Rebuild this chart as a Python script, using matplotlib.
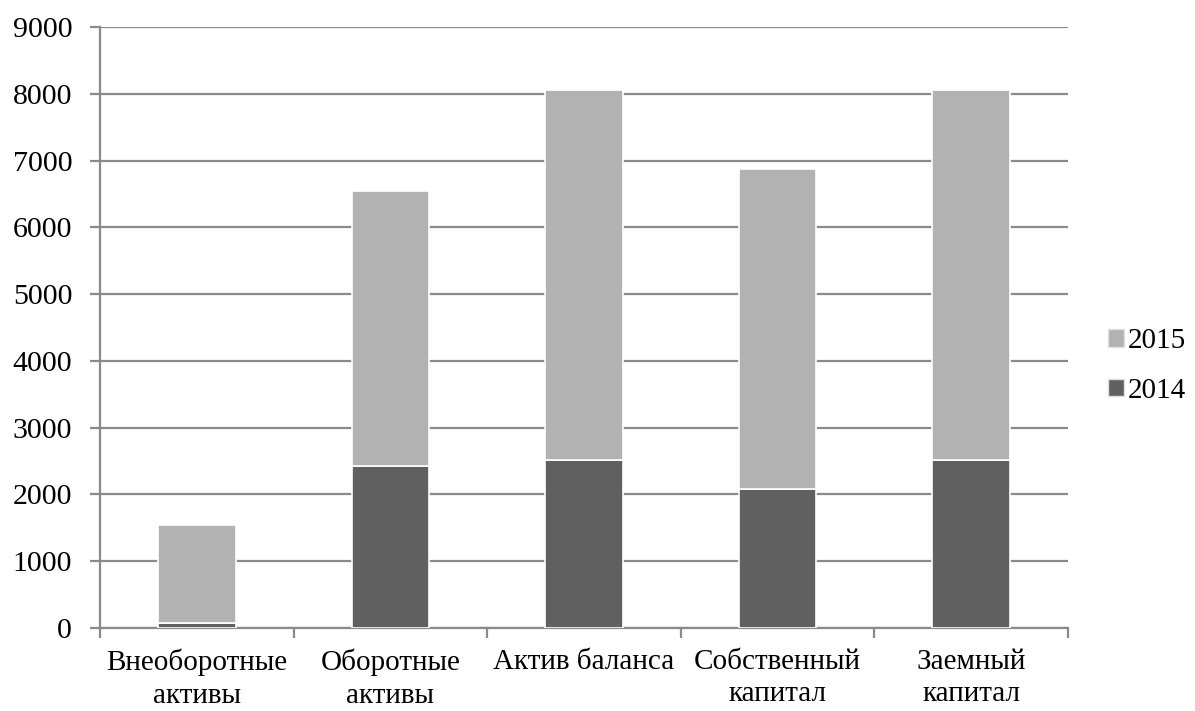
import numpy as np
import matplotlib.pyplot as plt
from matplotlib.patches import Patch

categories = ['Внеоборотные\nактивы', 'Оборотные\nактивы', 'Актив баланса',
              'Собственный\nкапитал', 'Заемный\nкапитал']
values_2014 = [80, 2420, 2510, 2080, 2510]
values_2015 = [1470, 4120, 5550, 4790, 5550]
yticks = [0, 1000, 2000, 3000, 4000, 5000, 6000, 7000, 8000, 9000]

plt.rcParams['font.family'] = ['Liberation Serif', 'DejaVu Serif']
grid_color = '#8a8a8a'
dark = '#606060'
light = '#b2b2b2'

fig = plt.figure(figsize=(11.95, 7.11), dpi=100)
ax = fig.add_axes([0.0837, 0.1167, 0.81, 0.8453])

x = np.arange(len(categories))
ax.bar(x, values_2014, width=0.4, color=dark, edgecolor='white', linewidth=1.2, zorder=3)
ax.bar(x, values_2015, width=0.4, bottom=values_2014, color=light,
       edgecolor='white', linewidth=1.2, zorder=3)

ax.set_xlim(-0.5, len(categories) - 0.5)
ax.set_ylim(0, 9000)
ax.set_yticks(yticks)
ax.yaxis.grid(True, color=grid_color, linewidth=1.6, zorder=0)
ax.set_axisbelow(True)

ax.set_xticks(x)
ax.set_xticklabels(categories, fontsize=21, linespacing=1.32)
ax.set_xticks(np.arange(len(categories) + 1) - 0.5, minor=True)
ax.tick_params(axis='x', which='major', length=0, pad=15)
ax.tick_params(axis='x', which='minor', length=7, width=1.6, color=grid_color)
ax.tick_params(axis='y', length=7, width=1.6, color=grid_color, labelsize=21.5, pad=13)

for side in ['top', 'right']:
    ax.spines[side].set_visible(False)
for side in ['left', 'bottom']:
    ax.spines[side].set_color(grid_color)
    ax.spines[side].set_linewidth(1.6)

handles = [Patch(facecolor=light, edgecolor='#e0e0e0'),
           Patch(facecolor=dark, edgecolor='#e0e0e0')]
fig.legend(handles, ['2015', '2014'], loc='center left',
           bbox_to_anchor=(0.905, 0.485), frameon=False, fontsize=21,
           handlelength=0.55, handleheight=0.55, handletextpad=0.12,
           labelspacing=0.8)

plt.savefig('out.png', dpi=100)
